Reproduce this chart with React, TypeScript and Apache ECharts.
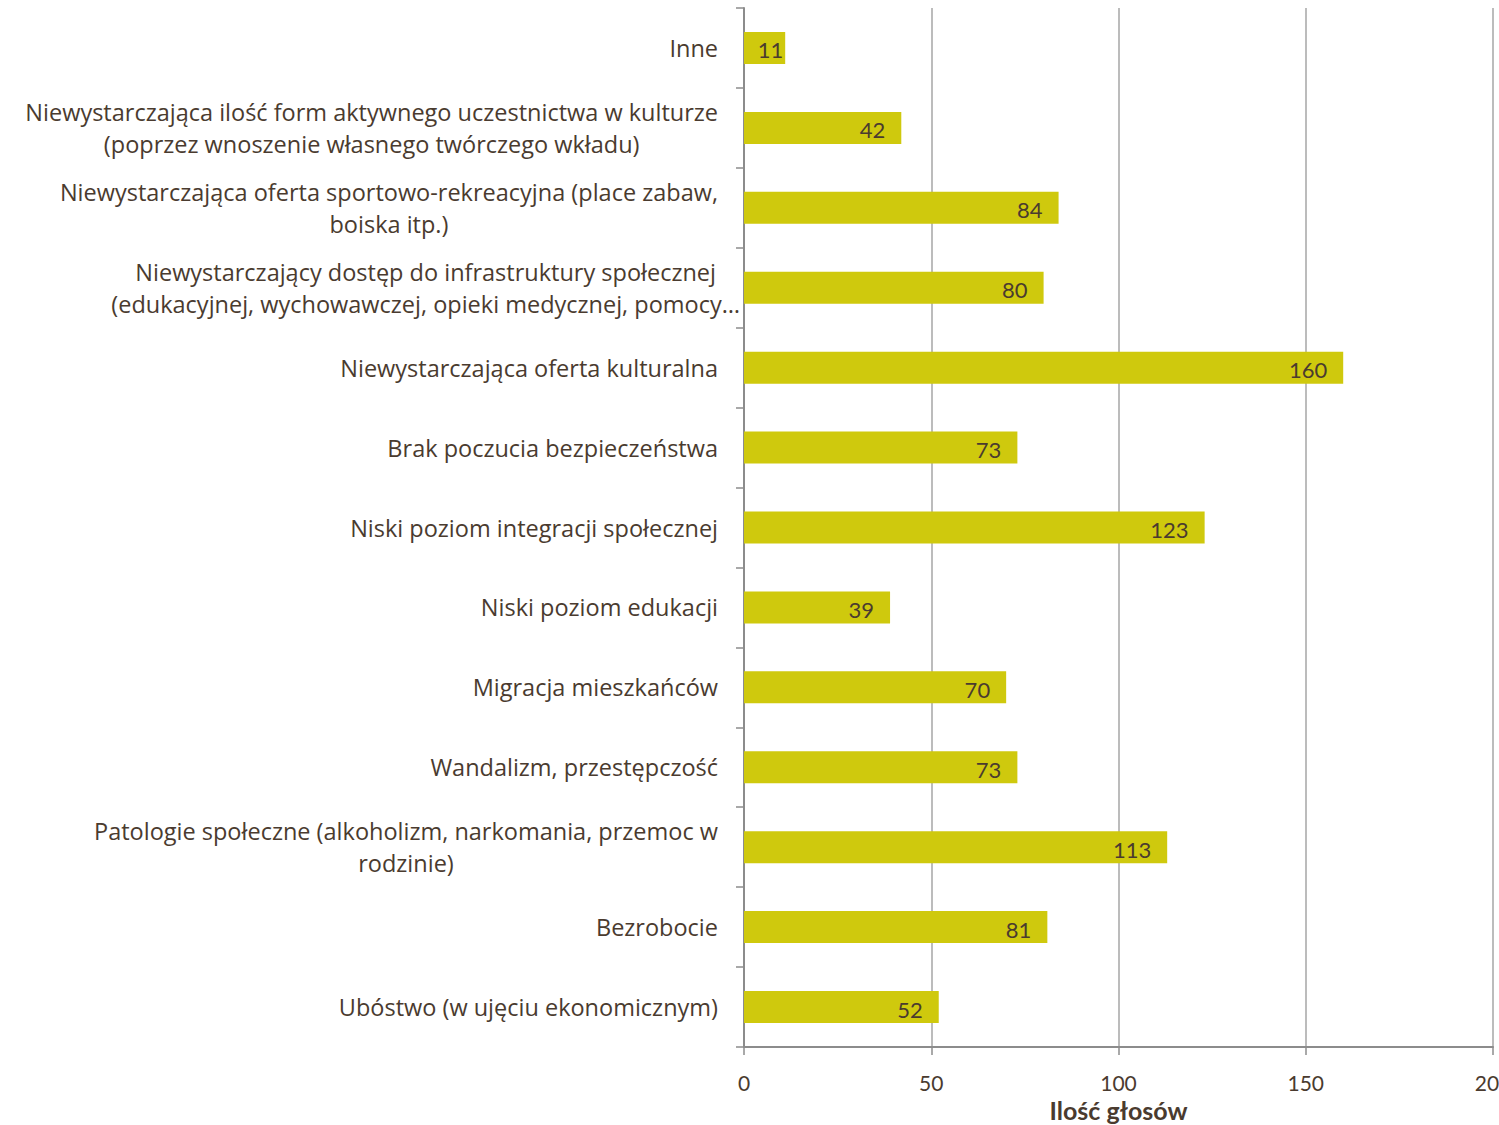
import React, { useEffect, useRef } from "react";
import * as echarts from "echarts";

// bottom-to-top order (ECharts category axis starts at the bottom)
const categories: string[] = [
  "Ubóstwo (w ujęciu ekonomicznym)",
  "Bezrobocie",
  "Patologie społeczne (alkoholizm, narkomania, przemoc w\nrodzinie)",
  "Wandalizm, przestępczość",
  "Migracja mieszkańców",
  "Niski poziom edukacji",
  "Niski poziom integracji społecznej",
  "Brak poczucia bezpieczeństwa",
  "Niewystarczająca oferta kulturalna",
  "Niewystarczający dostęp do infrastruktury społecznej\n(edukacyjnej, wychowawczej, opieki medycznej, pomocy…",
  "Niewystarczająca oferta sportowo-rekreacyjna (place zabaw,\nboiska itp.)",
  "Niewystarczająca ilość form aktywnego uczestnictwa w kulturze\n(poprzez wnoszenie własnego twórczego wkładu)",
  "Inne",
];
const votes: number[] = [52, 81, 113, 73, 70, 39, 123, 73, 160, 80, 84, 42, 11];
const axisName = "Ilość głosów";

const FONT = "Open Sans";
const TEXT = "#4a3b2f";

export default function App() {
  const ref = useRef<HTMLDivElement>(null);
  useEffect(() => {
    if (!ref.current) return;
    const chart = echarts.init(ref.current, null, { renderer: "svg" });
    chart.setOption({
      animation: false,
      textStyle: { fontFamily: FONT, color: TEXT },
      grid: {
        left: 744,
        right: 6,
        top: 8,
        bottom: 78,
        containLabel: false,
        outerBoundsMode: "none",
      },
      xAxis: {
        type: "value",
        min: 0,
        max: 200,
        interval: 50,
        name: axisName,
        nameLocation: "middle",
        nameGap: 50,
        nameTextStyle: { fontFamily: "Lato", fontSize: 25, fontWeight: "bold", color: TEXT },
        axisLine: { show: true, lineStyle: { color: "#8c8c8c", width: 2 } },
        axisTick: { show: true, length: 8, lineStyle: { color: "#8c8c8c", width: 1.5 } },
        axisLabel: { fontFamily: "Lato", fontSize: 21, color: TEXT, margin: 25 },
        splitLine: { show: true, lineStyle: { color: "#a6a6a6", width: 1.5 } },
      },
      yAxis: {
        type: "category",
        data: categories.map((c) =>
          c.endsWith("…") ? { value: c, textStyle: { padding: [0, -22, 0, 0] } } : c
        ),
        axisLine: { show: true, lineStyle: { color: "#8c8c8c", width: 2 } },
        axisTick: { show: true, length: 8, inside: false, lineStyle: { color: "#8c8c8c", width: 1.5 } },
        axisLabel: {
          fontFamily: FONT,
          fontSize: 23.5,
          color: TEXT,
          margin: 26,
          lineHeight: 32,
          align: "right",
          formatter: (v: string) =>
            v
              .split("\n")
              .map((l) => `{c|${l}}`)
              .join("\n"),
          rich: {
            c: {
              align: "center",
              fontFamily: FONT,
              fontSize: 23.5,
              lineHeight: 32,
              color: TEXT,
            },
          },
        },
        splitLine: { show: false },
      },
      series: [
        {
          type: "bar",
          data: votes.map((v) => (v < 20 ? { value: v, label: { distance: 2 } } : v)),
          barWidth: 32,
          itemStyle: { color: "#cfc90d" },
          label: {
            show: true,
            position: "insideRight",
            distance: 16,
            offset: [0, 2],
            fontFamily: "Lato",
            fontSize: 22,
            color: TEXT,
          },
        },
      ],
    });
    return () => chart.dispose();
  }, []);
  return (
    <div
      ref={ref}
      style={{ position: "fixed", left: 0, top: 0, width: 1499, height: 1125, background: "#fff" }}
    />
  );
}
